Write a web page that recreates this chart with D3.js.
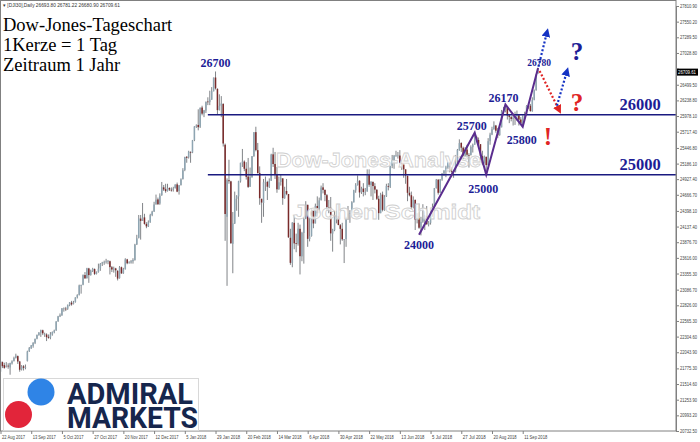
<!DOCTYPE html>
<html>
<head>
<meta charset="utf-8">
<script src="https://cdn.jsdelivr.net/npm/d3@7"></script>
<style>
  body { margin: 0; background: #fff; }
  svg { display: block; }
</style>
</head>
<body>
<div id="chart"></div>
<script>
// DJI30 daily candles, bar 0 = 22 Aug 2017, one bar per weekday
// (no bars on 25 Dec, 1 Jan, 30 Mar), last bar = 21 Sep 2018
var open = [
  21720,21880,21830,21800,21820,21790,21860,21900,21950,21980,
  21890,21760,21810,21790,21900,22060,22110,22150,22200,22270,
  22330,22370,22410,22350,22340,22300,22290,22340,22380,22410,
  22560,22640,22660,22770,22770,22770,22830,22870,22850,22880,
  22960,23000,23150,23170,23330,23280,23440,23330,23400,23430,
  23350,23380,23440,23520,23540,23550,23560,23560,23460,23420,
  23440,23400,23280,23460,23360,23430,23590,23530,23540,23560,
  23580,23840,23950,24270,24230,24290,24180,24140,24210,24330,
  24390,24510,24590,24520,24660,24790,24760,24730,24780,24750,
  24750,24780,24840,24730,24830,24930,25080,25300,25290,25380,
  25370,25580,25800,25830,25800,26120,26020,26070,26220,26210,
  26250,26390,26620,26430,26080,26150,26180,25500,24300,24910,
  24890,23850,24190,24600,24640,24890,25200,25220,25100,24970,
  24800,24960,25310,25710,25410,25030,24600,24530,24880,24880,
  24800,24900,25340,25180,25010,24760,24880,24940,24610,24730,
  24680,23950,23530,24200,23860,23850,24100,23640,24030,24270,
  24500,23930,23980,24400,24190,24480,24360,24580,24790,24750,
  24660,24460,24450,24020,24080,24320,24310,24160,24100,23920,
  23930,24260,24360,24360,24540,24740,24830,24900,24710,24770,
  24710,24720,25010,24830,24880,24810,24750,24600,24360,24670,
  24410,24640,24810,24800,25150,25240,25320,25320,25320,25200,
  25170,25090,24980,24700,24660,24460,24580,24250,24280,24120,
  24220,24270,24310,24170,24200,24360,24460,24780,24920,24700,
  24920,25020,25060,25120,25200,25060,25060,25050,25240,25410,
  25530,25450,25310,25420,25330,25330,25460,25500,25630,25580,
  25510,25310,25190,25300,25160,25560,25670,25760,25820,25730,
  25660,25790,26050,26060,26120,25990,25960,25930,25950,25980,
  25990,25920,25860,25970,26000,26150,26150,26060,26250,26410,26693.8
];
var high = [
  21910,21890,21870,21880,21860,21870,21910,21970,22020,21990,
  21900,21830,21830,21840,22070,22130,22165,22210,22270,22340,
  22380,22420,22420,22370,22360,22340,22380,22390,22420,22560,
  22650,22690,22780,22790,22800,22840,22880,22900,22900,22960,
  23010,23170,23170,23340,23380,23450,23450,23420,23450,23440,
  23390,23520,23530,23550,23570,23600,23580,23570,23480,23470,
  23450,23410,23480,23470,23450,23610,23600,23560,23580,23610,
  23850,24000,24330,24330,24530,24350,24210,24240,24350,24400,
  24550,24670,24620,24690,24880,24830,24850,24850,24790,24790,
  24800,24840,24870,24830,24940,25110,25300,25310,25400,25390,
  25580,25810,25840,26090,26120,26150,26080,26220,26290,26400,
  26460,26620,26720,26440,26340,26310,26190,25520,24940,25250,
  24900,24380,24720,24660,24900,25200,25430,25240,25210,25280,
  25120,25310,25710,25800,25530,25140,24600,24930,24970,24900,
  24940,25350,25450,25380,25130,24970,25000,24940,24800,24930,
  24680,24100,24210,24330,24020,24200,24170,24050,24290,24560,
  24500,24280,24440,24400,24520,24640,24620,24820,24860,24750,
  24680,24580,24630,24100,24400,24400,24510,24180,24200,23930,
  24300,24480,24410,24560,24750,24860,24990,24910,24800,24860,
  24780,25090,25090,24890,24890,24860,24760,24650,24700,24720,
  24660,24850,24860,25150,25330,25330,25400,25380,25410,25240,
  25170,25090,24990,24800,24720,24640,24590,24360,24520,24300,
  24510,24330,24480,24230,24400,24520,24780,24930,24920,24930,
  25030,25080,25150,25210,25210,25130,25080,25330,25430,25590,
  25540,25470,25460,25500,25360,25490,25520,25700,25650,25620,
  25510,25400,25320,25300,25610,25700,25800,25890,25830,25780,
  25800,26080,26130,26170,26130,26010,25980,25980,26050,26070,
  26000,25960,25990,26050,26160,26190,26180,26290,26420,26680,26781.22
];
var low = [
  21710,21780,21770,21790,21770,21670,21840,21890,21940,21850,
  21720,21740,21740,21760,21890,22050,22100,22120,22180,22260,
  22320,22300,22330,22300,22230,22270,22260,22320,22360,22400,
  22550,22630,22650,22720,22730,22750,22810,22820,22840,22870,
  22940,22990,23020,23160,23270,23270,23200,23320,23380,23330,
  23340,23370,23400,23480,23500,23520,23510,23340,23380,23370,
  23300,23240,23270,23350,23350,23420,23510,23520,23520,23520,
  23570,23830,23940,23920,24230,24170,24110,24130,24200,24310,
  24380,24500,24500,24500,24650,24730,24700,24720,24730,24720,
  24720,24770,24710,24670,24820,24920,25060,25200,25270,25200,
  25360,25560,25780,25740,25780,25990,25960,26030,26160,26160,
  26250,26390,26420,26000,26070,25960,25470,23900,23150,24850,
  23850,23360,24180,24400,24300,24870,25130,25060,24920,24780,
  24800,24950,25300,25390,25020,24500,24200,24300,24730,24580,
  24780,24900,25130,24930,24700,24750,24820,24500,24600,24660,
  23950,23500,23460,23760,23710,23820,23340,23560,23520,24260,
  23800,23890,23970,24110,24190,24300,24360,24570,24690,24560,
  24400,24360,23900,23720,24060,24190,24160,23840,23900,23530,
  23800,24250,24200,24310,24540,24700,24820,24620,24680,24640,
  24660,24720,24800,24640,24580,24690,24580,24250,24360,24390,
  24400,24630,24740,24780,25110,25100,25300,25270,25190,25080,
  24950,24850,24560,24640,24420,24440,24080,24190,24100,23990,
  24200,24080,24170,24140,24170,24300,24450,24770,24670,24700,
  24900,24980,24960,25090,25040,24960,24950,25040,25160,25400,
  25380,25260,25300,25300,25120,25320,25370,25500,25540,25480,
  25240,25160,25190,25000,25160,25500,25660,25750,25700,25610,
  25650,25790,26030,26040,25920,25860,25890,25820,25830,25900,
  25820,25840,25800,25930,25990,26100,26050,26050,26240,26400,26680.9
];
var close = [
  21900,21812,21783,21814,21808,21865,21892,21948,21988,21890,
  21753,21808,21785,21798,22057,22119,22158,22203,22268,22331,
  22371,22413,22359,22350,22296,22284,22341,22381,22405,22558,
  22642,22662,22775,22774,22761,22831,22873,22841,22872,22957,
  22997,23158,23163,23329,23274,23442,23329,23401,23434,23349,
  23377,23435,23516,23539,23548,23557,23563,23462,23422,23440,
  23409,23271,23458,23358,23430,23591,23526,23540,23558,23581,
  23837,23941,24272,24232,24290,24181,24141,24211,24329,24386,
  24505,24585,24509,24652,24792,24755,24727,24782,24754,24746,
  24774,24838,24719,24824,24923,25075,25296,25283,25386,25369,
  25575,25803,25820,25793,26116,26018,26072,26215,26211,26252,
  26393,26617,26439,26077,26149,26187,25521,24346,24913,24893,
  23860,24191,24601,24640,24893,25200,25219,25100,24965,24798,
  24962,25310,25709,25410,25029,24609,24538,24875,24884,24801,
  24895,25336,25179,25007,24758,24874,24947,24611,24727,24682,
  23958,23533,24203,23858,23848,24103,23644,24033,24264,24505,
  23933,23979,24408,24189,24483,24360,24573,24787,24748,24665,
  24463,24449,24024,24084,24322,24311,24163,24099,23925,23930,
  24263,24357,24360,24543,24740,24831,24899,24706,24769,24714,
  24715,25013,24834,24887,24812,24753,24600,24361,24668,24416,
  24635,24814,24800,25146,25241,25317,25322,25321,25201,25175,
  25090,24987,24700,24658,24462,24581,24253,24283,24118,24216,
  24271,24307,24175,24200,24357,24456,24777,24920,24700,24925,
  25019,25064,25120,25199,25065,25058,25044,25242,25414,25527,
  25451,25307,25415,25334,25326,25463,25502,25629,25584,25509,
  25313,25188,25300,25162,25559,25669,25759,25822,25734,25657,
  25790,26050,26064,26125,25987,25965,25930,25952,25975,25996,
  25917,25857,25971,25999,26146,26155,26062,26247,26406,26657,26709.61
];

// one date label every 16 bars
var dateLabels = ["22 Aug 2017", "13 Sep 2017", "5 Oct 2017", "27 Oct 2017", "20 Nov 2017",
  "12 Dec 2017", "5 Jan 2018", "29 Jan 2018", "20 Feb 2018", "14 Mar 2018", "6 Apr 2018",
  "30 Apr 2018", "22 May 2018", "13 Jun 2018", "5 Jul 2018", "27 Jul 2018", "20 Aug 2018",
  "11 Sep 2018"];

var priceTicks = [27810.90, 27550.20, 27289.50, 27028.80, 26768.10, 26499.50, 26238.80,
  25978.10, 25717.40, 25446.80, 25186.10, 24927.40, 24666.70, 24398.10, 24137.40,
  23876.70, 23616.00, 23355.30, 23086.70, 22826.00, 22565.30, 22304.60, 22043.90,
  21775.30, 21514.60, 21253.90, 20993.20, 20732.50];

// horizontal levels and the bar where each line starts
var levels = [26000, 25000];
var levelStart = [108, 108];

// swing points of the zigzag (bar index, price)
var swingBar = [218, 247, 253, 263, 272, 280];
var swingPrice = [24000, 25700, 25000, 26170, 25800, 26780];

// forecast arrows (bar index / price of start and end)
var arrowBar = [[280.2, 284.6], [280.8, 290.9], [289.8, 295.0]];
var arrowPrice = [[26800, 27370], [26730, 26080], [26150, 26720]];

var W = 700, H = 442;
var plotRight = 676, plotBottom = 431;

var x = d3.scaleLinear().domain([0, 352]).range([0.5, 676.3]);
var y = d3.scaleLinear().domain([20732.5, 27810.9]).range([431, 6]);

var navy = "#1d1d96", lineNavy = "#1a1a80", red = "#e02424";
var smallFont = "'Liberation Sans', Tahoma, sans-serif";

var svg = d3.select("#chart")
  .append("svg")
  .attr("width", W)
  .attr("height", H)
  .style("font-family", "'Liberation Sans', Arial, sans-serif");

svg.append("rect").attr("width", W).attr("height", H).attr("fill", "#fff");

// arrow heads
var defs = svg.append("defs");
[["headBlue", "#1533c4"], ["headRed", red]].forEach(function (m) {
  defs.append("marker")
    .attr("id", m[0])
    .attr("viewBox", "0 0 10 10")
    .attr("refX", 5).attr("refY", 5)
    .attr("markerWidth", 4).attr("markerHeight", 4)
    .attr("orient", "auto")
    .append("path")
    .attr("d", "M0,0 L10,5 L0,10 z")
    .attr("fill", m[1]);
});

// candles
var bars = close.map(function (c, i) {
  return { i: i, o: open[i], h: high[i], l: low[i], c: c };
});
var candle = svg.append("g").selectAll("g")
  .data(bars)
  .enter()
  .append("g");
candle.append("line")
  .attr("x1", function (d) { return x(d.i); })
  .attr("x2", function (d) { return x(d.i); })
  .attr("y1", function (d) { return y(d.h); })
  .attr("y2", function (d) { return y(d.l); })
  .attr("stroke", "#4a4f55")
  .attr("stroke-width", 0.7);
candle.append("rect")
  .attr("x", function (d) { return x(d.i) - 0.75; })
  .attr("width", 1.5)
  .attr("y", function (d) { return y(Math.max(d.o, d.c)); })
  .attr("height", function (d) { return Math.max(0.7, Math.abs(y(d.o) - y(d.c))); })
  .attr("fill", function (d) { return d.c >= d.o ? "#8ea5b2" : "#7a2a2a"; });

// watermark
var wm = svg.append("g")
  .attr("font-family", "'Liberation Sans', Arial, sans-serif")
  .attr("font-weight", "bold")
  .attr("font-size", 21)
  .attr("fill", "#fff")
  .attr("fill-opacity", 0.75)
  .attr("stroke", "#cfcfcf")
  .attr("stroke-width", 0.8);
wm.append("text").attr("x", 276).attr("y", 167)
  .attr("textLength", 205).attr("lengthAdjust", "spacingAndGlyphs")
  .text("Dow-Jones-Analyse");
wm.append("text").attr("x", 293).attr("y", 219)
  .attr("textLength", 187).attr("lengthAdjust", "spacingAndGlyphs")
  .text("Jochen Schmidt");

// horizontal levels
levels.forEach(function (v, k) {
  svg.append("line")
    .attr("x1", x(levelStart[k])).attr("x2", plotRight)
    .attr("y1", y(v)).attr("y2", y(v))
    .attr("stroke", lineNavy)
    .attr("stroke-width", 1.4);
  svg.append("text")
    .attr("x", 640).attr("y", y(v) - 5)
    .attr("text-anchor", "middle")
    .attr("font-family", "'Liberation Serif', 'Times New Roman', serif")
    .attr("font-weight", "bold")
    .attr("font-size", 16.5)
    .attr("fill", navy)
    .text(d3.format("d")(v));
});

// zigzag
var zz = d3.line()
  .x(function (d) { return x(d[0]); })
  .y(function (d) { return y(d[1]); });
svg.append("path")
  .datum(swingBar.map(function (b, k) { return [b, swingPrice[k]]; }))
  .attr("d", zz)
  .attr("fill", "none")
  .attr("stroke", "#5a2d8e")
  .attr("stroke-width", 2);

// dotted forecast arrows
arrowBar.forEach(function (b, k) {
  var isRed = k === 1;
  svg.append("line")
    .attr("x1", x(b[0])).attr("y1", y(arrowPrice[k][0]))
    .attr("x2", x(b[1])).attr("y2", y(arrowPrice[k][1]))
    .attr("stroke", isRed ? red : "#1533c4")
    .attr("stroke-width", 2.2)
    .attr("stroke-dasharray", "2,2")
    .attr("marker-end", isRed ? "url(#headRed)" : "url(#headBlue)");
});

// swing labels
var labelStyle = function (sel, size) {
  sel.attr("text-anchor", "middle")
    .attr("font-family", "'Liberation Serif', 'Times New Roman', serif")
    .attr("font-weight", "bold")
    .attr("font-size", size)
    .attr("fill", navy);
};
var offs = [[0, 14], [-3, -3], [-3, 18], [-2, -3], [-1, 17], [1, -2]];
swingBar.forEach(function (b, k) {
  svg.append("text")
    .attr("x", x(b) + offs[k][0])
    .attr("y", y(swingPrice[k]) + offs[k][1])
    .call(labelStyle, k === 5 ? 9.5 : 12)
    .text(swingPrice[k]);
});
// January top
svg.append("text")
  .attr("x", x(112)).attr("y", y(high[112]) - 4)
  .call(labelStyle, 12)
  .text("26700");

// question marks and exclamation mark
[["?", 577, 60, navy], ["?", 577, 111, red], ["!", 548, 145, red]].forEach(function (q) {
  svg.append("text")
    .attr("x", q[1]).attr("y", q[2])
    .attr("text-anchor", "middle")
    .attr("font-family", "'Liberation Serif', 'Times New Roman', serif")
    .attr("font-weight", "bold")
    .attr("font-size", 25)
    .attr("fill", q[3])
    .text(q[0]);
});

// frame
svg.append("rect")
  .attr("x", 0.5).attr("y", 0.5)
  .attr("width", plotRight - 0.5).attr("height", plotBottom - 0.5)
  .attr("fill", "none")
  .attr("stroke", "#808080")
  .attr("stroke-width", 1);

var last = close.length - 1;

// right price axis
var yAxis = svg.append("g")
  .attr("transform", "translate(" + plotRight + ",0)")
  .call(d3.axisRight(y).tickValues(priceTicks).tickFormat(d3.format(".2f")).tickSize(3).tickPadding(1));
yAxis.select(".domain").attr("stroke", "#808080");
yAxis.selectAll(".tick line").attr("stroke", "#808080");
yAxis.selectAll("text")
  .attr("font-size", 4.6).attr("fill", "#444")
  .attr("font-family", smallFont)
  .attr("textLength", 17).attr("lengthAdjust", "spacingAndGlyphs");
// the label under the current price box is hidden in the original
yAxis.selectAll(".tick")
  .filter(function (d) { return Math.abs(y(d) - y(close[last])) < 6; })
  .select("text").remove();

// bottom time axis
var xAxis = svg.append("g")
  .attr("transform", "translate(0," + plotBottom + ")")
  .call(d3.axisBottom(x)
    .tickValues(dateLabels.map(function (d, i) { return i * 16; }))
    .tickFormat(function (d, i) { return dateLabels[i]; })
    .tickSize(3).tickPadding(1.5));
xAxis.select(".domain").remove();
xAxis.selectAll(".tick line").attr("stroke", "#808080");
xAxis.selectAll("text")
  .attr("text-anchor", "start")
  .attr("dx", 1)
  .attr("font-size", 5.2).attr("fill", "#444")
  .attr("font-family", smallFont)
  .attr("textLength", function (d, i) { return dateLabels[i].length > 10 ? 23 : 20; })
  .attr("lengthAdjust", "spacingAndGlyphs");

// current price box
svg.append("rect")
  .attr("x", plotRight + 1).attr("y", y(close[last]) - 3.5)
  .attr("width", 21).attr("height", 7)
  .attr("fill", "#000");
svg.append("text")
  .attr("x", plotRight + 2).attr("y", y(close[last]) + 1.8)
  .attr("font-size", 4.6).attr("fill", "#fff")
  .attr("font-family", smallFont)
  .attr("textLength", 18).attr("lengthAdjust", "spacingAndGlyphs")
  .text(d3.format(".2f")(close[last]));

// header line
svg.append("text")
  .attr("x", 3).attr("y", 6.5)
  .attr("font-size", 4.8).attr("fill", "#333")
  .attr("font-family", smallFont)
  .text("\u25BE [DJI30],Daily  " + [open[last], high[last], low[last], close[last]].map(d3.format(".2f")).join(" "));

// title block
var title = ["Dow-Jones-Tageschart", "1Kerze = 1 Tag", "Zeitraum 1 Jahr"];
svg.append("g").selectAll("text")
  .data(title)
  .enter()
  .append("text")
  .attr("x", 3)
  .attr("y", function (d, i) { return 31 + i * 20; })
  .attr("font-family", "'Liberation Serif', 'Times New Roman', serif")
  .attr("font-size", 18.5)
  .attr("fill", "#000")
  .text(function (d) { return d; });

// logo
var logo = svg.append("g");
logo.append("rect")
  .attr("x", 3.5).attr("y", 378.5).attr("width", 195).attr("height", 52)
  .attr("fill", "#fff").attr("stroke", "#d8d8d8");
logo.append("circle").attr("cx", 41).attr("cy", 392).attr("r", 13.5).attr("fill", "#2f84e6");
logo.append("circle").attr("cx", 18.5).attr("cy", 414.5).attr("r", 13.5).attr("fill", "#e2253a");
[["ADMIRAL", 404, 126], ["MARKETS", 428, 131]].forEach(function (t) {
  logo.append("text")
    .attr("x", 67).attr("y", t[1])
    .attr("textLength", t[2]).attr("lengthAdjust", "spacingAndGlyphs")
    .attr("font-family", "'Roboto', 'Liberation Sans', sans-serif")
    .attr("font-weight", "bold")
    .attr("font-size", 29)
    .attr("fill", "#16264d")
    .text(t[0]);
});
</script>
</body>
</html>
